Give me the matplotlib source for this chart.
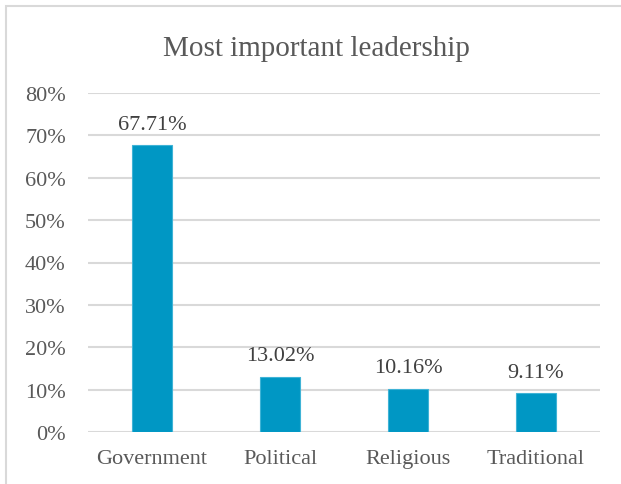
import numpy as np
import matplotlib.pyplot as plt
from matplotlib.patches import Rectangle

# data
categories = ['Government', 'Political', 'Religious', 'Traditional']
values = [67.71, 13.02, 10.16, 9.11]
labels = ['67.71%', '13.02%', '10.16%', '9.11%']
yticks = [0, 10, 20, 30, 40, 50, 60, 70, 80]

W, H = 621, 485
plt.rcParams['font.family'] = ['Liberation Serif', 'DejaVu Serif']
text_col = '#595959'

fig = plt.figure(figsize=(W / 100, H / 100), dpi=100)
fig.patches.append(Rectangle((6 / W, -0.1), 1.2, 1 - 7 / H + 0.1, transform=fig.transFigure,
                             fill=False, edgecolor='#d9d9d9', lw=1.5))

ax = fig.add_axes([88 / W, 1 - 433 / H, 512 / W, (433 - 94) / H])
x = np.arange(len(categories))
ax.bar(x, values, width=0.31, color='#0097c4', edgecolor='#3fb3d6', lw=0.8, zorder=3)
for xi, v, lab in zip(x, values, labels):
    ax.text(xi, v + 3.9, lab, ha='center', va='baseline', fontsize=16, color='#404040')

ax.set_xlim(-0.5, len(categories) - 0.5)
ax.set_ylim(0, 80)
ax.set_yticks(yticks)
ax.set_yticklabels([f'{t}%' for t in yticks])
ax.set_xticks(x)
ax.set_xticklabels(categories)
ax.tick_params(length=0, labelsize=16, labelcolor=text_col)
ax.tick_params(axis='x', pad=12)
ax.tick_params(axis='y', pad=16)
ax.grid(axis='y', color='#d9d9d9', lw=1.5, zorder=0)
for s in ax.spines.values():
    s.set_visible(False)

fig.text((163 + 470) / 2 / W, 1 - 56 / H, 'Most important leadership', ha='center', va='baseline',
         fontsize=21, color=text_col)

fig.savefig('out.png', dpi=100)
